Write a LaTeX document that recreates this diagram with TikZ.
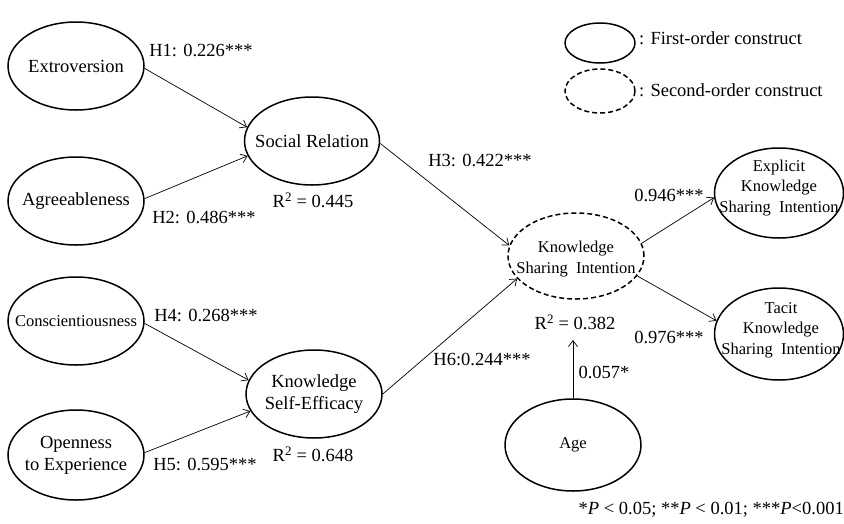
\documentclass[tikz,border=0pt]{standalone}
\usepackage{fontspec}
\setmainfont{Liberation Serif}
\usetikzlibrary{shapes.geometric,arrows.meta}
\begin{document}
\begin{tikzpicture}[x=1pt,y=-1pt,
  fo/.style={ellipse, draw, line width=1.5pt, inner sep=0pt},
  so/.style={fo, dash pattern=on 5pt off 3pt},
  txt/.style={font=\fontsize{18.5}{22}\selectfont, align=center, inner sep=0pt},
  sm/.style={font=\fontsize{16.5}{20.5}\selectfont, align=center, inner sep=0pt},
  arr/.style={-{Straight Barb[length=6pt,width=9pt]}, line width=0.7pt}]
\useasboundingbox (0,0) rectangle (844,523);
% first-order constructs
\node[fo, minimum width=136pt, minimum height=88pt] (ext) at (76,66) {};
\node[txt] (extt) at (ext) {Extroversion};
\node[fo, minimum width=136pt, minimum height=88pt] (agr) at (76,201) {};
\node[txt] (agrt) at (agr) {Agreeableness};
\node[fo, minimum width=136pt, minimum height=88pt] (con) at (76,321) {};
\node[sm] (cont) at (con) {Conscientiousness};
\node[fo, minimum width=136pt, minimum height=90pt] (ope) at (76,455) {};
\node[txt] (opet) at (ope) {Openness\\to Experience};
\node[fo, minimum width=135pt, minimum height=88pt] (sr) at (312,141) {};
\node[txt] (srt) at (sr) {Social Relation};
\node[fo, minimum width=136pt, minimum height=88pt] (kse) at (314,394) {};
\node[txt] (kset) at (kse) {Knowledge\\Self-Efficacy};
\node[so, minimum width=136pt, minimum height=86pt] (ksi) at (576,256) {};
\node[sm] (ksit) at (576,259) {Knowledge\\Sharing\ \ Intention};
\node[fo, minimum width=129pt, minimum height=90pt] (exp) at (779,193) {};
\node[sm] (expt) at (779,188) {Explicit\\Knowledge\\Sharing\ \ Intention};
\node[fo, minimum width=129pt, minimum height=92pt] (tac) at (779,334) {};
\node[sm] (tact) at (781,330) {Tacit\\Knowledge\\Sharing\ \ Intention};
\node[fo, minimum width=136pt, minimum height=92pt] (age) at (573,445) {};
\node[sm] (aget) at (age) {Age};
\coordinate (agetop) at (573,340);
% legend
\node[fo, minimum width=70pt, minimum height=40pt] (leg1) at (600,43) {};
\node[txt, anchor=west] (leg1t) at (639,38) {: First-order construct};
\node[so, minimum width=70pt, minimum height=44pt] (leg2) at (600,91) {};
\node[txt, anchor=west] (leg2t) at (639,90) {: Second-order construct};
% connectors
\draw[arr] (ext.-2) -- (sr.168);
\draw[arr] (agr.2.5) -- (sr.193);
\draw[arr] (sr.-2) -- (ksi.171);
\draw[arr] (con.-2) -- (kse.168);
\draw[arr] (ope.2.5) -- (kse.195);
\draw[arr] (kse.0) -- (ksi.201);
\draw[arr] (ksi.11) -- (exp.184);
\draw[arr] (ksi.-18) -- (tac.168);
\draw[arr] (age.north) -- (agetop);
% labels
\node[txt] (h1) at (201,50) {H1: 0.226***};
\node[txt] (h2) at (204,217) {H2: 0.486***};
\node[txt] (r1) at (313,200) {R\textsuperscript{2} = 0.445};
\node[txt] (h3) at (480,160) {H3: 0.422***};
\node[txt] (h4) at (206,315) {H4: 0.268***};
\node[txt] (h5) at (205,464) {H5: 0.595***};
\node[txt] (r2) at (313,454) {R\textsuperscript{2} = 0.648};
\node[txt] (h6) at (482,359) {H6:0.244***};
\node[txt] (r3) at (575,322) {R\textsuperscript{2} = 0.382};
\node[txt] (a1) at (604,372) {0.057*};
\node[txt] (p1) at (669,195) {0.946***};
\node[txt] (p2) at (669,337) {0.976***};
\node[txt, anchor=east] (fn) at (844,510) {*\textit{P} < 0.05; **\textit{P} < 0.01; ***\textit{P}<0.001};
\end{tikzpicture}
\end{document}
